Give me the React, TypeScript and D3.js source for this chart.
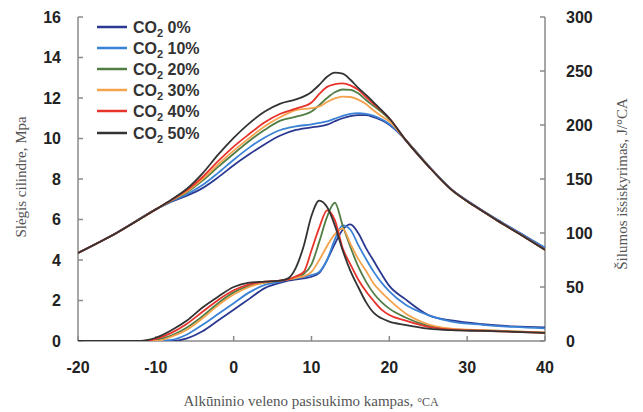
import React from "react";
import * as d3 from "d3";

const W = 643;
const H = 412;

const seriesNames = ["0%", "10%", "20%", "30%", "40%", "50%"];
const seriesColors = ["#2b3890", "#3a82d6", "#527d45", "#f5a24c", "#e8332b", "#333333"];

const xTicks = [-20, -10, 0, 10, 20, 30, 40];
const leftTicks = [0, 2, 4, 6, 8, 10, 12, 14, 16];
const rightTicks = [0, 50, 100, 150, 200, 250, 300];

// Pressure (MPa) vs crank angle
const pAngles = [-20, -15, -10, -8, -6, -4, -2, 0, 2, 4, 6, 8, 10, 11, 12, 13, 14, 15, 16, 17, 18, 19, 20, 22, 25, 28, 31, 34, 37, 40];
const p0 = [4.35, 5.35, 6.5, 6.88, 7.18, 7.55, 8.08, 8.68, 9.22, 9.72, 10.15, 10.42, 10.55, 10.6, 10.68, 10.85, 11.0, 11.1, 11.15, 11.15, 11.05, 10.9, 10.68, 9.97, 8.66, 7.48, 6.68, 5.96, 5.28, 4.6];
const p10 = [4.35, 5.35, 6.5, 6.9, 7.25, 7.7, 8.3, 8.95, 9.55, 10.05, 10.42, 10.6, 10.7, 10.77, 10.85, 10.98, 11.12, 11.22, 11.25, 11.22, 11.12, 10.95, 10.72, 9.97, 8.66, 7.48, 6.68, 5.96, 5.28, 4.6];
const p20 = [4.35, 5.35, 6.5, 6.93, 7.35, 7.92, 8.6, 9.25, 9.88, 10.43, 10.88, 11.08, 11.33, 11.65, 12.0, 12.28, 12.42, 12.4, 12.23, 11.9, 11.6, 11.3, 10.95, 9.97, 8.64, 7.46, 6.65, 5.92, 5.22, 4.5];
const p30 = [4.35, 5.35, 6.5, 6.94, 7.4, 8.0, 8.72, 9.4, 10.02, 10.6, 11.06, 11.4, 11.5, 11.58, 11.8, 11.98, 12.07, 12.05, 11.92, 11.7, 11.38, 11.1, 10.85, 9.97, 8.64, 7.46, 6.65, 5.92, 5.22, 4.5];
const p40 = [4.35, 5.35, 6.5, 6.96, 7.45, 8.1, 8.88, 9.6, 10.22, 10.8, 11.22, 11.48, 11.78, 12.2, 12.55, 12.68, 12.72, 12.62, 12.4, 12.05, 11.7, 11.38, 11.0, 9.97, 8.64, 7.46, 6.65, 5.92, 5.22, 4.5];
const p50 = [4.35, 5.35, 6.5, 6.98, 7.52, 8.28, 9.2, 10.03, 10.75, 11.33, 11.72, 11.93, 12.3, 12.65, 13.05, 13.25, 13.2, 12.9, 12.5, 12.15, 11.78, 11.4, 11.0, 9.97, 8.64, 7.46, 6.65, 5.92, 5.22, 4.5];

// Heat release rate (J/°CA) vs crank angle
const hAngles = [-20, -14, -12, -11, -10, -8, -6, -4, -2, 0, 2, 4, 6, 7, 8, 9, 10, 11, 12, 13, 14, 15, 16, 17, 18, 19, 20, 22, 25, 28, 32, 36, 40];
const h0 = [0, 0, 0, 0, 0, 0, 2.5, 9, 19, 29, 39, 49, 54, 56, 57, 58, 59.5, 63, 75, 90, 103, 108, 100, 86, 74, 62, 51, 39, 24, 19, 15.5, 13.5, 12.5];
const h10 = [0, 0, 0, 0, 0, 1, 6, 15, 25, 35, 45, 52, 55, 57, 58, 59.5, 61, 64, 75, 94, 107, 103, 89, 76, 64, 54, 46, 34, 24, 18, 15, 13, 11.7];
const h20 = [0, 0, 0, 0, 1, 5, 12.5, 23, 35, 45, 51, 54, 56, 57, 58.5, 62, 71, 92, 115, 128, 107, 87, 69, 55, 44, 36, 30, 22, 14, 11, 10, 9, 7.8];
const h30 = [0, 0, 0, 0, 0, 4, 10.5, 21, 33, 43, 50, 54, 56, 57, 58.5, 60, 64, 75, 88, 99, 104, 90, 76, 65, 53, 45, 38, 26, 15.5, 11.5, 10, 9, 8];
const h40 = [0, 0, 0, 0.5, 2, 7.5, 16, 27, 38, 47, 52.5, 55, 56, 57, 60, 64, 84, 105, 121, 112, 86, 71, 57, 46, 37, 29, 24, 19, 13, 10.5, 9.5, 8.5, 7.5];
const h50 = [0, 0, 0, 1, 3, 10, 19, 31, 41, 50, 54, 55, 56, 58, 68, 88, 116, 130, 124, 107, 84, 65, 50, 36, 26, 21, 18, 15, 11.5, 10, 9.3, 8.5, 7.5];

const pressureSeries = [p0, p10, p20, p30, p40, p50];
const heatSeries = [h0, h10, h20, h30, h40, h50];

const L = 78, R = 545, T = 17, B = 341;

export default function App() {
  const x = d3.scaleLinear().domain([-20, 40]).range([L, R]);
  const yL = d3.scaleLinear().domain([0, 16]).range([B, T]);
  const yR = d3.scaleLinear().domain([0, 300]).range([B, T]);

  const lineP = (vals: number[]) =>
    d3.line<number>().x((_, i) => x(pAngles[i])).y((v) => yL(v)).curve(d3.curveMonotoneX)(vals) || "";
  const lineH = (vals: number[]) =>
    d3.line<number>().x((_, i) => x(hAngles[i])).y((v) => yR(v)).curve(d3.curveMonotoneX)(vals) || "";

  const axisColor = "#8a8a8a";
  const tickFont = "'Liberation Sans', Arial, sans-serif";
  const serif = "'Liberation Serif', 'Times New Roman', serif";
  const legendRows = [27, 48, 69, 90, 111, 133];

  return (
    <svg width={W} height={H} style={{ position: "absolute", left: 0, top: 0, background: "#fff" }}>
      <rect x={0} y={0} width={W} height={H} fill="#fff" />
      <defs>
        <clipPath id="plot">
          <rect x={L} y={T - 2} width={R - L} height={B - T + 2} />
        </clipPath>
      </defs>

      {/* axes */}
      <line x1={L} x2={L} y1={T} y2={B} stroke={axisColor} strokeWidth={1.5} />
      <line x1={R} x2={R} y1={T} y2={B} stroke={axisColor} strokeWidth={1.5} />
      <line x1={L} x2={R} y1={B} y2={B} stroke={axisColor} strokeWidth={1.5} />
      {leftTicks.map((t) => (
        <g key={"l" + t}>
          <line x1={L} x2={L + 5} y1={yL(t)} y2={yL(t)} stroke={axisColor} strokeWidth={1.5} />
          <text x={61} y={yL(t)} dy="0.36em" textAnchor="end" fontFamily={tickFont} fontWeight="bold" fontSize={16} fill="#222">
            {t}
          </text>
        </g>
      ))}
      {rightTicks.map((t) => (
        <g key={"r" + t}>
          <line x1={R - 5} x2={R} y1={yR(t)} y2={yR(t)} stroke={axisColor} strokeWidth={1.5} />
          <text x={566} y={yR(t)} dy="0.36em" textAnchor="start" fontFamily={tickFont} fontWeight="bold" fontSize={16} fill="#222">
            {t}
          </text>
        </g>
      ))}
      {xTicks.map((t) => (
        <g key={"x" + t}>
          <line x1={x(t)} x2={x(t)} y1={B} y2={B - 5} stroke={axisColor} strokeWidth={1.5} />
          <text x={x(t)} y={367} dy="0.36em" textAnchor="middle" fontFamily={tickFont} fontWeight="bold" fontSize={16} fill="#222">
            {t}
          </text>
        </g>
      ))}

      {/* axis titles */}
      <text transform={`translate(26,177) rotate(-90)`} textAnchor="middle" fontFamily={serif} fontSize={15} fill="#555">
        Slėgis cilindre, Mpa
      </text>
      <text transform={`translate(627,184) rotate(-90)`} textAnchor="middle" fontFamily={serif} fontSize={15} fill="#555">
        Šilumos išsiskyrimas, J/°CA
      </text>
      <text x={311} y={406} textAnchor="middle" fontFamily={serif} fontSize={15} fill="#555">
        Alkūninio veleno pasisukimo kampas, <tspan fontSize={12}>°CA</tspan>
      </text>

      {/* curves */}
      <g clipPath="url(#plot)" fill="none" strokeWidth={1.8}>
        {heatSeries.map((s, i) => (
          <path key={"h" + i} d={lineH(s)} stroke={seriesColors[i]} />
        ))}
        {pressureSeries.map((s, i) => (
          <path key={"p" + i} d={lineP(s)} stroke={seriesColors[i]} />
        ))}
      </g>

      {/* legend */}
      {seriesNames.map((n, i) => (
        <g key={"lg" + i}>
          <line x1={97} x2={127} y1={legendRows[i]} y2={legendRows[i]} stroke={seriesColors[i]} strokeWidth={2.5} />
          <text x={133} y={legendRows[i]} dy="0.36em" fontFamily={tickFont} fontWeight="bold" fontSize={16} fill="#333">
            CO<tspan fontSize={11} dy={4}>2</tspan>
            <tspan dy={-4}>{" " + n}</tspan>
          </text>
        </g>
      ))}
    </svg>
  );
}
